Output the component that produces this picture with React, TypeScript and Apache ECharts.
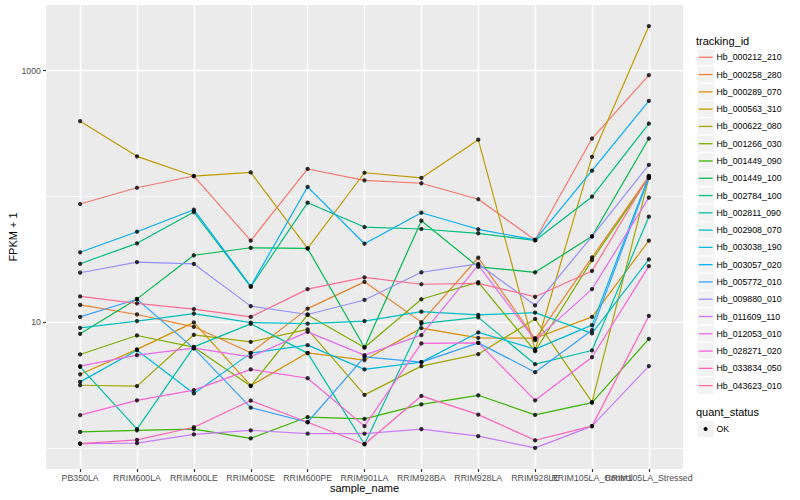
import React, { useEffect, useRef } from "react";
import * as echarts from "echarts";

const categories = [
  "PB350LA", "RRIM600LA", "RRIM600LE", "RRIM600SE", "RRIM600PE", "RRIM901LA",
  "RRIM928BA", "RRIM928LA", "RRIM928LE", "RRIM105LA_Control", "RRIM105LA_Stressed",
];

const trackingIds = [
  "Hb_000212_210", "Hb_000258_280", "Hb_000289_070", "Hb_000563_310", "Hb_000622_080",
  "Hb_001266_030", "Hb_001449_090", "Hb_001449_100", "Hb_002784_100", "Hb_002811_090",
  "Hb_002908_070", "Hb_003038_190", "Hb_003057_020", "Hb_005772_010", "Hb_009880_010",
  "Hb_011609_110", "Hb_012053_010", "Hb_028271_020", "Hb_033834_050", "Hb_043623_010",
];

const palette = [
  "#F8766D", "#EA8331", "#D89000", "#C09B00", "#A3A500", "#7CAE00", "#39B600", "#00BB4E",
  "#00BF7D", "#00C1A3", "#00BFC4", "#00BAE0", "#00B0F6", "#35A2FF", "#9590FF", "#C77CFF",
  "#E76BF3", "#FA62DB", "#FF62BC", "#FF6C91",
];

// FPKM + 1 per sample, in category order
const hb000212_210 = [86.9, 117, 145, 44.4, 165, 134, 127, 94.8, 45.0, 288, 919];
const hb000258_280 = [13.7, 11.5, 9.18, 5.7, 12.8, 20.9, 10.0, 32.5, 7.33, 32.7, 144];
const hb000289_070 = [3.85, 6.07, 9.95, 3.13, 5.7, 4.99, 8.96, 7.5, 7.45, 11.0, 44.4];
const hb000563_310 = [396, 208, 145, 155, 38.6, 154, 140, 282, 5.98, 206, 2256];
const hb000622_080 = [3.15, 3.1, 7.93, 6.97, 8.75, 2.64, 4.47, 5.56, 10.6, 2.31, 140];
const hb001266_030 = [5.53, 7.83, 6.32, 3.1, 11.4, 6.29, 15.2, 20.8, 5.87, 31.1, 141];
const hb001449_090 = [1.34, 1.38, 1.41, 1.19, 1.76, 1.7, 2.22, 2.62, 1.83, 2.29, 7.36];
const hb001449_100 = [8.07, 15.3, 34.0, 39.0, 38.5, 6.29, 64.0, 27.5, 24.9, 48.1, 288];
const hb002784_100 = [29.1, 42.3, 75.0, 19.1, 89.0, 57.0, 55.0, 50.8, 44.6, 99.4, 379];
const hb002811_090 = [4.41, 1.41, 6.36, 9.69, 5.67, 1.07, 9.73, 10.9, 4.63, 5.95, 68.9];
const hb002908_070 = [9.01, 10.2, 11.7, 9.91, 9.73, 10.2, 12.1, 11.4, 11.9, 8.13, 31.5];
const hb003038_190 = [3.35, 5.98, 2.71, 5.67, 6.56, 4.21, 4.81, 8.28, 6.1, 9.46, 145];
const hb003057_020 = [35.9, 52.3, 78.3, 19.3, 119, 42.0, 74.1, 54.7, 45.0, 160, 574];
const hb005772_010 = [11.0, 15.2, 6.18, 2.09, 1.6, 5.3, 4.81, 6.84, 4.0, 8.63, 140];
const hb009880_010 = [24.7, 30.0, 29.0, 13.4, 11.5, 15.0, 24.9, 29.0, 13.6, 48.1, 178];
const hb011609_110 = [1.08, 1.09, 1.28, 1.38, 1.3, 1.3, 1.41, 1.24, 1.0, 1.49, 4.47];
const hb012053_010 = [4.47, 5.46, 6.21, 5.3, 8.37, 5.46, 7.88, 28.4, 7.19, 18.3, 97.6];
const hb028271_020 = [1.82, 2.39, 2.88, 4.21, 3.58, 1.49, 6.77, 6.84, 2.39, 5.26, 27.9];
const hb033834_050 = [1.08, 1.16, 1.46, 2.38, 1.6, 1.07, 2.59, 1.84, 1.15, 1.49, 11.2];
const hb043623_010 = [16.0, 14.1, 12.7, 11.0, 18.3, 22.7, 20.0, 20.3, 15.9, 25.5, 145];

const seriesValues = [
  hb000212_210, hb000258_280, hb000289_070, hb000563_310, hb000622_080,
  hb001266_030, hb001449_090, hb001449_100, hb002784_100, hb002811_090,
  hb002908_070, hb003038_190, hb003057_020, hb005772_010, hb009880_010,
  hb011609_110, hb012053_010, hb028271_020, hb033834_050, hb043623_010,
];

const yMajorTicks = [10, 1000];
const yMinorTicks = [1, 100];
const quantStatus = ["OK"];

const FONT = "'Liberation Sans', Arial, Helvetica, sans-serif";

export default function App() {
  const ref = useRef<HTMLDivElement>(null);

  useEffect(() => {
    if (!ref.current) return;
    const chart = echarts.init(ref.current, undefined, { renderer: "svg" });

    const catIdx = categories.map((_, i) => i);
    const xMin = -0.6;
    const xMax = categories.length - 1 + 0.6;
    // padded label positions: empty labels at both ends keep ECharts from hiding real ones
    const labelVals = [xMin, ...catIdx, xMax];

    const allVals = seriesValues.flat();
    const lo = Math.log10(Math.min(...allVals));
    const hi = Math.log10(Math.max(...allVals));
    const pad = (hi - lo) * 0.05;
    const yMin = Math.pow(10, lo - pad);
    const yMax = Math.pow(10, hi + pad);

    const lineSeries = seriesValues.map((vals, s) => ({
      name: trackingIds[s],
      type: "line",
      data: vals.map((v, i) => [i, v]),
      showSymbol: false,
      symbol: "none",
      lineStyle: { color: palette[s], width: 1.2 },
      itemStyle: { color: palette[s] },
      z: 2,
      silent: true,
    }));

    const pointData: number[][] = [];
    seriesValues.forEach((vals) => vals.forEach((v, i) => pointData.push([i, v])));

    const legendTop = 57.3;
    const step = 17.28;
    const graphics: any[] = [];
    graphics.push({
      type: "text", x: 696, y: 40.7,
      style: { text: "tracking_id", fontSize: 11, fontFamily: FONT, fill: "#000", align: "left", verticalAlign: "middle" },
    });
    trackingIds.forEach((id, i) => {
      const cy = legendTop + i * step;
      graphics.push({
        type: "rect", shape: { x: 697, y: cy - step / 2, width: step, height: step },
        style: { fill: "#F2F2F2", stroke: "#FFFFFF", lineWidth: 1 },
      });
      graphics.push({
        type: "line", shape: { x1: 698.7, y1: cy, x2: 712.6, y2: cy },
        style: { stroke: palette[i], lineWidth: 1.3 },
      });
      graphics.push({
        type: "text", x: 716.5, y: cy,
        style: { text: id, fontSize: 8.8, fontFamily: FONT, fill: "#000", align: "left", verticalAlign: "middle" },
      });
    });
    graphics.push({
      type: "text", x: 696, y: 412.3,
      style: { text: "quant_status", fontSize: 11, fontFamily: FONT, fill: "#000", align: "left", verticalAlign: "middle" },
    });
    quantStatus.forEach((q, i) => {
      const cy = 429 + i * step;
      graphics.push({
        type: "rect", shape: { x: 697, y: cy - step / 2, width: step, height: step },
        style: { fill: "#F2F2F2", stroke: "#FFFFFF", lineWidth: 1 },
      });
      graphics.push({
        type: "circle", shape: { cx: 705.6, cy, r: 2 },
        style: { fill: "#000" },
      });
      graphics.push({
        type: "text", x: 716.5, y: cy,
        style: { text: q, fontSize: 8.8, fontFamily: FONT, fill: "#000", align: "left", verticalAlign: "middle" },
      });
    });
    graphics.push({
      type: "text", x: 13, y: 237, rotation: Math.PI / 2,
      style: { text: "FPKM + 1", fontSize: 11, fontFamily: FONT, fill: "#000", align: "center", verticalAlign: "middle" },
    });
    graphics.push({
      type: "text", x: 364.5, y: 488,
      style: { text: "sample_name", fontSize: 11, fontFamily: FONT, fill: "#000", align: "center", verticalAlign: "middle" },
    });

    chart.setOption({
      animation: false,
      backgroundColor: "#FFFFFF",
      textStyle: { fontFamily: FONT },
      grid: {
        left: 46, top: 5, width: 637, height: 464,
        show: true, backgroundColor: "#EBEBEB", borderWidth: 0,
      },
      xAxis: {
        type: "value",
        min: xMin,
        max: xMax,
        axisLine: { show: true, onZero: false, lineStyle: { color: "rgba(0,0,0,0)", width: 0 } },
        axisTick: {
          show: true, customValues: catIdx, length: 3,
          lineStyle: { color: "#333333", width: 1.2 },
        },
        axisLabel: {
          customValues: labelVals,
          showMinLabel: false,
          showMaxLabel: false,
          hideOverlap: false,
          formatter: (v: number) =>
            Math.abs(v - Math.round(v)) < 1e-6 ? categories[Math.round(v)] ?? "" : "",
          fontSize: 8.8, color: "#4D4D4D", margin: 4, fontFamily: FONT,
        },
        splitLine: { show: true, lineStyle: { color: "#FFFFFF", width: 1.4 } },
      },
      yAxis: [
        {
          type: "log",
          logBase: 10,
          min: yMin,
          max: yMax,
          axisLine: { show: true, onZero: false, lineStyle: { color: "rgba(0,0,0,0)", width: 0 } },
          axisTick: {
            show: true, customValues: yMajorTicks, length: 3,
            lineStyle: { color: "#333333", width: 1.2 },
          },
          axisLabel: {
            customValues: yMajorTicks,
            showMinLabel: true,
            showMaxLabel: true,
            formatter: (v: number) => String(Math.round(v)),
            fontSize: 8.8, color: "#4D4D4D", margin: 5, fontFamily: FONT,
          },
          splitLine: { show: true, lineStyle: { color: "#FFFFFF", width: 1.4 } },
        },
        {
          type: "log",
          logBase: 10,
          min: yMin,
          max: yMax,
          position: "left",
          axisLine: { show: false },
          axisTick: { show: false, customValues: yMinorTicks },
          axisLabel: { show: false, customValues: yMinorTicks },
          splitLine: { show: true, lineStyle: { color: "#FFFFFF", width: 0.7 } },
        },
      ],
      series: [
        ...lineSeries,
        {
          name: "OK",
          type: "scatter",
          data: pointData,
          symbol: "circle",
          symbolSize: 4.3,
          itemStyle: { color: "#000000" },
          z: 3,
          silent: true,
        },
      ],
      graphic: graphics,
    });

    return () => chart.dispose();
  }, []);

  return (
    <div
      ref={ref}
      style={{ position: "absolute", left: 0, top: 0, width: 800, height: 500 }}
    />
  );
}
